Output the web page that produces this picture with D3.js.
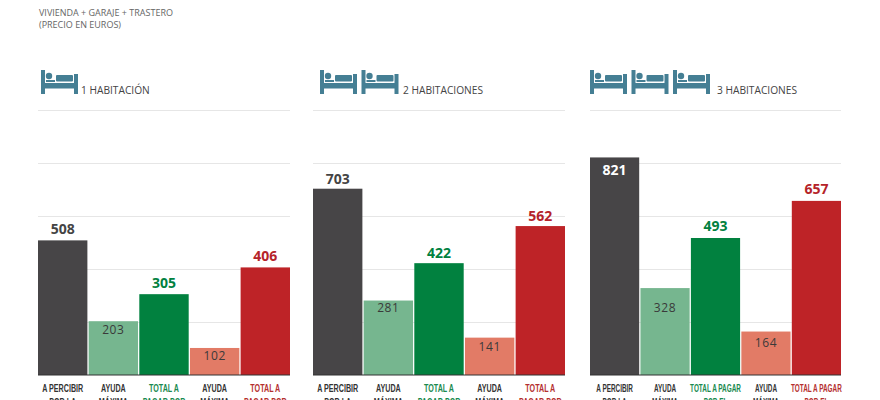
<!DOCTYPE html>
<html>
<head>
<meta charset="utf-8">
<script src="https://cdn.jsdelivr.net/npm/d3@7"></script>
<style>
  html, body { margin: 0; padding: 0; background: #fff; overflow: hidden; }
  text { font-family: "Open Sans", sans-serif; }
  text.cat { font-family: "Liberation Sans", sans-serif; font-weight: 700; font-size: 11px; }
</style>
</head>
<body>
<div id="chart"></div>
<script>
var svgWidth = 880;
var svgHeight = 400;

// data
var panelTitles = ["1 HABITACIÓN", "2 HABITACIONES", "3 HABITACIONES"];
var bedCounts = [1, 2, 3];
var values1 = [508, 203, 305, 102, 406];
var values2 = [703, 281, 422, 141, 562];
var values3 = [821, 328, 493, 164, 657];
// the green bar in the 3 room panel is drawn taller than its printed 493
var heights3 = [821, 328, 517, 164, 657];
var gridTicks = [0, 200, 400, 600, 800, 1000];
var labels1 = [["A PERCIBIR", "POR LA"], ["AYUDA", "MÁXIMA"], ["TOTAL A", "PAGAR POR"], ["AYUDA", "MÁXIMA"], ["TOTAL A", "PAGAR POR"]];
var labels3 = [["A PERCIBIR", "POR LA"], ["AYUDA", "MÁXIMA"], ["TOTAL A PAGAR", "POR EL"], ["AYUDA", "MÁXIMA"], ["TOTAL A PAGAR", "POR EL"]];

var barColors = ["#474547", "#76b68f", "#01813f", "#e27b66", "#be2327"];
var labelColors = ["#333333", "#333333", "#1a8a50", "#333333", "#b5302f"];
var valueColors = ["#444444", "#3a3a3a", "#01813f", "#3a3a3a", "#b5232a"];

var panels = [
    { x0: 38, x1: 290, values: values1, heights: values1, labels: labels1, title: panelTitles[0], beds: bedCounts[0], icons: 41, titleX: 81, squeeze: 0.65, inner: [0, 13, 0, 12, 0], above: 6 },
    { x0: 313, x1: 565, values: values2, heights: values2, labels: labels1, title: panelTitles[1], beds: bedCounts[1], icons: 320, titleX: 403, squeeze: 0.65, inner: [0, 11, 0, 13, 0], above: 5 },
    { x0: 590, x1: 841, values: values3, heights: heights3, labels: labels3, title: panelTitles[2], beds: bedCounts[2], icons: 590, titleX: 717, squeeze: 0.58, inner: [18, 24, 0, 15, 0], above: 7 }
];

var svg = d3.select("#chart")
    .append("svg")
    .attr("width", svgWidth)
    .attr("height", svgHeight);

// subtitle
svg.append("text").attr("x", 39).attr("y", 16)
    .attr("font-size", "9px").attr("fill", "#666").text("VIVIENDA + GARAJE + TRASTERO");
svg.append("text").attr("x", 39).attr("y", 28)
    .attr("font-size", "9px").attr("fill", "#666").text("(PRECIO EN EUROS)");

var yScale = d3.scaleLinear().domain([0, 1000]).range([375, 110]);

function drawBed(g, x) {
    var bed = g.append("g").attr("transform", `translate(${x}, 70)`).attr("fill", "#457f94");
    bed.append("rect").attr("x", 0).attr("y", 0).attr("width", 4).attr("height", 24);
    bed.append("rect").attr("x", 33).attr("y", 4).attr("width", 4).attr("height", 20);
    bed.append("rect").attr("x", 3).attr("y", 13).attr("width", 31).attr("height", 5.5);
    bed.append("circle").attr("cx", 8).attr("cy", 6).attr("r", 3.2);
    bed.append("rect").attr("x", 15).attr("y", 5).attr("width", 17).attr("height", 6.5).attr("rx", 1);
    bed.append("rect").attr("x", 5).attr("y", 10).attr("width", 9).attr("height", 2);
}

panels.forEach(function (p) {
    var g = svg.append("g");

    // icons + title
    d3.range(p.beds).forEach(function (i) { drawBed(g, p.icons + i * 41.5); });
    g.append("text").attr("x", p.titleX).attr("y", 94)
        .attr("font-size", "10.2px").attr("fill", "#444").text(p.title);

    // grid
    g.selectAll(".grid").data(gridTicks.slice(1)).enter().append("line")
        .attr("x1", p.x0).attr("x2", p.x1)
        .attr("y1", d => yScale(d) + 0.5).attr("y2", d => yScale(d) + 0.5)
        .attr("stroke", "#e6e6e6").attr("stroke-width", 1);

    var xScale = d3.scaleBand()
        .domain(d3.range(p.values.length))
        .range([p.x0, p.x1])
        .paddingInner(0.025);

    g.selectAll(".bar").data(p.heights).enter().append("rect")
        .attr("x", (d, i) => xScale(i))
        .attr("width", xScale.bandwidth())
        .attr("y", d => yScale(d))
        .attr("height", d => yScale(0) - yScale(d))
        .attr("fill", (d, i) => barColors[i]);

    // baseline
    g.append("line").attr("x1", p.x0).attr("x2", p.x1)
        .attr("y1", 375).attr("y2", 375)
        .attr("stroke", "#333").attr("stroke-width", 1);

    // value labels: totals above the bar, aid inside
    g.selectAll(".val").data(p.values).enter().append("text")
        .attr("x", (d, i) => xScale(i) + xScale.bandwidth() / 2)
        .attr("y", function (d, i) {
            if (p.inner[i]) return yScale(p.heights[i]) + p.inner[i];
            return yScale(p.heights[i]) - p.above;
        })
        .attr("text-anchor", "middle")
        .attr("font-size", (d, i) => (i === 1 || i === 3) ? "12px" : "14px")
        .attr("letter-spacing", (d, i) => (i === 1 || i === 3) ? "0.6px" : "0")
        .attr("font-weight", (d, i) => (i === 1 || i === 3) ? "400" : "700")
        .attr("fill", (d, i) => (p.inner[i] && i === 0) ? "#fff" : valueColors[i])
        .text(d => d);

    // category labels, squeezed to a condensed look and cut by the bottom edge as in the source
    p.labels.forEach(function (lines, i) {
        lines.forEach(function (line, j) {
            g.append("text")
                .attr("class", "cat")
                .attr("transform", `translate(${xScale(i) + xScale.bandwidth() / 2}, ${392 + j * 13.5}) scale(${p.squeeze}, 1)`)
                .attr("text-anchor", "middle")
                .attr("fill", labelColors[i])
                .text(line);
        });
    });
});
</script>
</body>
</html>
